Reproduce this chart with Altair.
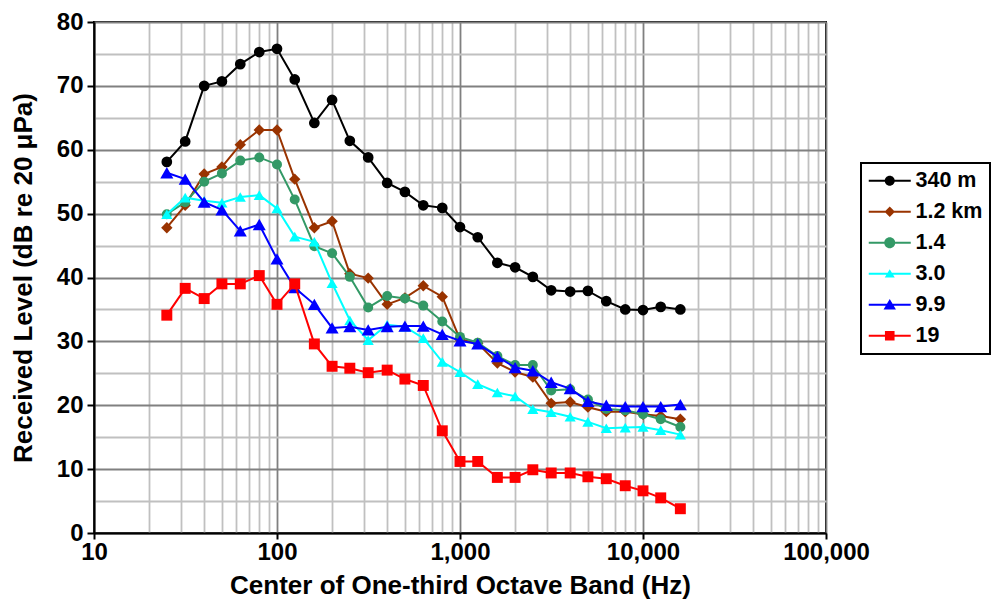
import altair as alt
import pandas as pd

# ---------------- data ----------------
freqs = [25, 31.5, 40, 50, 63, 80, 100, 125, 160, 200, 250, 315, 400, 500, 630,
         800, 1000, 1250, 1600, 2000, 2500, 3150, 4000, 5000, 6300, 8000, 10000,
         12500, 16000]

series_names = ["340 m", "1.2 km", "1.4", "3.0", "9.9", "19"]

lvl_340m = [58.1, 61.3, 70.0, 70.7, 73.4, 75.3, 75.8, 71.0, 64.2, 67.8, 61.4, 58.8,
            54.8, 53.4, 51.3, 50.9, 47.9, 46.3, 42.3, 41.6, 40.1, 38.0, 37.8, 37.9,
            36.3, 35.0, 34.9, 35.4, 35.0]
lvl_1_2km = [47.8, 51.3, 56.2, 57.3, 60.8, 63.1, 63.1, 55.4, 47.8, 48.8, 40.6, 39.9,
             35.8, 36.8, 38.7, 37.0, 30.3, 29.7, 26.6, 25.2, 24.4, 20.3, 20.5, 19.7,
             19.0, 19.0, 18.6, 18.3, 17.8]
lvl_1_4 = [49.9, 51.8, 55.0, 56.3, 58.3, 58.8, 57.7, 52.2, 44.9, 43.8, 40.1, 35.3,
           37.1, 36.7, 35.6, 33.1, 30.7, 29.8, 27.7, 26.3, 26.3, 22.3, 22.5, 20.9,
           19.4, 19.2, 18.6, 17.8, 16.6]
lvl_3_0 = [49.9, 52.5, 52.0, 51.7, 52.6, 52.9, 50.8, 46.4, 45.6, 39.1, 33.3, 30.2,
           32.6, 32.3, 30.5, 26.8, 25.2, 23.3, 22.0, 21.4, 19.4, 18.9, 18.2, 17.4,
           16.4, 16.5, 16.6, 16.1, 15.4]
lvl_9_9 = [56.4, 55.4, 51.8, 50.6, 47.3, 48.3, 42.9, 38.4, 35.8, 32.1, 32.3, 31.8,
           32.3, 32.4, 32.4, 31.1, 30.1, 29.6, 27.6, 25.9, 25.4, 23.6, 22.6, 20.6,
           20.0, 19.8, 19.8, 19.8, 20.1]
lvl_19 = [34.1, 38.3, 36.7, 39.0, 39.0, 40.3, 35.8, 39.0, 29.6, 26.1, 25.8, 25.1,
          25.5, 24.1, 23.1, 16.0, 11.2, 11.2, 8.7, 8.7, 9.9, 9.4, 9.4, 8.8,
          8.5, 7.4, 6.6, 5.5, 3.8]

all_levels = [lvl_340m, lvl_1_2km, lvl_1_4, lvl_3_0, lvl_9_9, lvl_19]

x_tick_values = [m * 10 ** k for k in range(1, 5) for m in range(1, 10)] + [100000]
y_tick_values = list(range(0, 85, 5))

# ---------------- styles ----------------
FONT = "Liberation Sans"
colors = ["#000000", "#993300", "#339966", "#00FFFF", "#0000FF", "#FF0000"]
shapes = ["circle", "diamond", "circle", "triangle-up", "triangle-up", "square"]
sizes = [115, 130, 100, 125, 170, 120]

# legend glyphs: a thin filled bar (the line) plus the marker, all drawn clockwise
LINE = "M-2.1,-0.1H2.1V0.1H-2.1Z"
legend_paths = [
    LINE + "M-0.5,0A0.5,0.5,0,1,1,0.5,0A0.5,0.5,0,1,1,-0.5,0Z",
    LINE + "M0,-0.52L0.52,0L0,0.52L-0.52,0Z",
    LINE + "M-0.55,0A0.55,0.55,0,1,1,0.55,0A0.55,0.55,0,1,1,-0.55,0Z",
    LINE + "M0,-0.45L0.5,0.38L-0.5,0.38Z",
    LINE + "M0,-0.58L0.62,0.48L-0.62,0.48Z",
    LINE + "M-0.48,-0.48H0.48V0.48H-0.48Z",
]

rows = []
for name, vals in zip(series_names, all_levels):
    for f, v in zip(freqs, vals):
        rows.append({"freq": f, "level": v, "series": name})
df = pd.DataFrame(rows)

decade_test = "abs(log(datum.value)/LN10 - round(log(datum.value)/LN10)) < 0.001"
ten_test = "datum.value % 10 == 0"

x_axis = alt.Axis(
    values=x_tick_values,
    format=",",
    labelExpr="indexof(['10','100','1,000','10,000','100,000'], datum.label) >= 0 ? datum.label : ''",
    labelOverlap=False,
    labelFlush=False,
    title="Center of One-third Octave Band (Hz)",
    grid=True,
    gridColor={"condition": {"test": decade_test, "value": "#808080"}, "value": "#c0c0c0"},
    tickOpacity={"condition": {"test": decade_test, "value": 1}, "value": 0},
    tickSize=6,
    labelPadding=1,
    titlePadding=8,
)
y_axis = alt.Axis(
    values=y_tick_values,
    labelExpr="datum.value % 10 == 0 ? datum.label : ''",
    labelOverlap=False,
    labelFlush=False,
    title="Received Level (dB re 20 \u03bcPa)",
    grid=True,
    gridColor={"condition": {"test": ten_test, "value": "#808080"}, "value": "#c0c0c0"},
    tickOpacity={"condition": {"test": ten_test, "value": 1}, "value": 0},
    tickSize=7,
    labelPadding=4,
    titlePadding=20,
)

x_enc = alt.X("freq:Q", scale=alt.Scale(type="log", domain=[10, 100000]), axis=x_axis)
y_scale = alt.Scale(domain=[0, 80])
y_enc = alt.Y("level:Q", scale=y_scale, axis=y_axis)

line_layers = []
point_layers = []
for name, shp, sz, col in zip(series_names, shapes, sizes, colors):
    base = alt.Chart(df).transform_filter(alt.datum.series == name)
    line_layers.append(
        base.mark_line(strokeWidth=2, color=col).encode(x=x_enc, y=y_enc)
    )
    point_layers.append(
        base.mark_point(filled=True, opacity=1, shape=shp, size=sz, color=col)
        .encode(x=x_enc, y=y_enc)
    )

series_layers = []
for ln, pt in zip(line_layers, point_layers):
    series_layers.extend([ln, pt])

leg = alt.Legend(
    orient="none",
    legendX=767,
    legendY=141,
    title=None,
    symbolSize=400,
    symbolStrokeWidth=0,
    symbolOffset=11,
    labelOffset=15,
    labelFont=FONT,
    labelFontSize=21.5,
    labelFontWeight="bold",
    labelColor="black",
    padding=7,
    rowPadding=8,
    strokeColor="black",
    fillColor="white",
)

# legend-only layer: its points sit far outside the y domain and are clipped away
legend_layer = (
    alt.Chart(df)
    .transform_calculate(hidden="-1000")
    .mark_point(filled=True, opacity=1, clip=True)
    .encode(
        x=x_enc,
        y=alt.Y("hidden:Q", scale=y_scale, axis=y_axis),
        color=alt.Color("series:N", scale=alt.Scale(domain=series_names, range=colors), legend=leg),
        shape=alt.Shape("series:N", scale=alt.Scale(domain=series_names, range=legend_paths), legend=leg),
    )
)

chart = (
    alt.layer(*series_layers, legend_layer)
    .properties(
        width=732,
        height=511,
        padding={"left": 86, "top": 14, "right": 165, "bottom": 66},
        autosize=alt.AutoSizeParams(type="none"),
        background="white",
    )
    .configure_view(stroke="black", strokeWidth=2)
    .configure_axis(
        labelFont=FONT,
        labelFontSize=24,
        labelFontWeight="bold",
        labelColor="black",
        titleFont=FONT,
        titleFontSize=26,
        titleFontWeight="bold",
        titleColor="black",
        domainColor="black",
        domainWidth=2,
        tickColor="black",
        tickWidth=2,
        gridWidth=1.8,
    )
    .configure_legend(strokeWidth=2)
)

chart.save("out.html", embed_options={"renderer": "svg", "actions": False})
